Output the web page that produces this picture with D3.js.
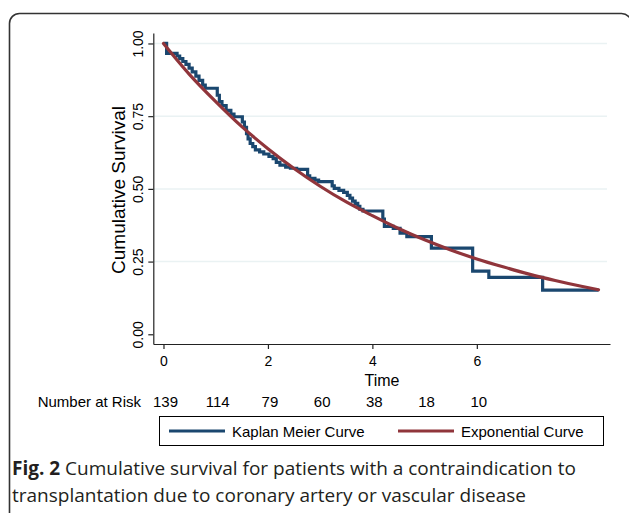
<!DOCTYPE html>
<html>
<head>
<meta charset="utf-8">
<script src="https://cdn.jsdelivr.net/npm/d3@7"></script>
<style>
  html, body { margin: 0; padding: 0; background: #fff; }
  svg { display: block; }
</style>
</head>
<body>
<div id="chart"></div>
<script>
"use strict"

// Kaplan Meier step points (time, survival after the step)
const kmTime = [0, 0.06, 0.26, 0.31, 0.37, 0.43, 0.49, 0.55, 0.62, 0.68,
  0.75, 0.80, 1.03, 1.07, 1.12, 1.20, 1.29, 1.35, 1.51, 1.55,
  1.59, 1.62, 1.66, 1.71, 1.76, 1.84, 1.92, 2.02, 2.10, 2.16,
  2.23, 2.34, 2.43, 2.55, 2.76, 2.80, 2.90, 2.97, 3.23, 3.27,
  3.36, 3.45, 3.52, 3.57, 3.62, 3.67, 3.72, 3.76, 3.82, 4.20,
  4.23, 4.40, 4.53, 4.66, 5.13, 5.92, 6.23, 7.26, 8.33];
const kmSurv = [1.00, 0.966, 0.957, 0.948, 0.938, 0.928, 0.915, 0.902, 0.888, 0.873,
  0.857, 0.846, 0.822, 0.800, 0.786, 0.770, 0.757, 0.748, 0.730, 0.712,
  0.690, 0.672, 0.656, 0.645, 0.634, 0.627, 0.620, 0.612, 0.604, 0.591,
  0.582, 0.575, 0.571, 0.567, 0.545, 0.536, 0.530, 0.525, 0.510, 0.502,
  0.495, 0.488, 0.478, 0.468, 0.458, 0.450, 0.440, 0.430, 0.424, 0.396,
  0.371, 0.364, 0.348, 0.336, 0.296, 0.217, 0.196, 0.152, 0.152];

// Exponential fit
const expTime = [0, 0.5, 1, 1.5, 2, 2.5, 3, 3.5, 4, 4.5, 5, 5.5, 6, 6.5, 7, 7.5, 8, 8.33];
const expSurv = [1.00, 0.893, 0.800, 0.714, 0.638, 0.570, 0.509, 0.455, 0.408, 0.364,
  0.325, 0.290, 0.259, 0.232, 0.207, 0.185, 0.165, 0.153];

// Number at risk
const riskTimes = [0, 1, 2, 3, 4, 5, 6];
const riskCounts = [139, 114, 79, 60, 38, 18, 10];

const xTicks = [0, 2, 4, 6];
const yTicks = [0, 0.25, 0.5, 0.75, 1];
const gridTicks = [0.25, 0.5, 0.75, 1];

const seriesNames = ["Kaplan Meier Curve", "Exponential Curve"];
const seriesColors = ["#1a476f", "#90353b"];

const W = 629, H = 513;
const chartFont = "'Liberation Sans', Arial, sans-serif";
const captionFont = "'Open Sans', 'Noto Sans', sans-serif";

const svg = d3.select("#chart").append("svg")
  .attr("width", W)
  .attr("height", H);

// Outer frame (rounded, runs off the right and bottom edges)
svg.append("rect")
  .attr("x", 9.5)
  .attr("y", 13.5)
  .attr("width", 622)
  .attr("height", 530)
  .attr("rx", 10)
  .attr("fill", "none")
  .attr("stroke", "#333")
  .attr("stroke-width", 1.6);

// Scales
const xScale = d3.scaleLinear()
  .domain([-0.195, 8.55])
  .range([153.3, 610]);

const yScale = d3.scaleLinear()
  .domain([-0.0334, 1.036])
  .range([344, 33]);

// Gridlines
svg.append("g")
  .attr("class", "grid")
  .selectAll("line")
  .data(gridTicks)
  .enter().append("line")
    .attr("x1", xScale.range()[0])
    .attr("x2", 607)
    .attr("y1", d => yScale(d))
    .attr("y2", d => yScale(d))
    .attr("stroke", "#eaf2f3")
    .attr("stroke-width", 1.5);

// Axes
const xAxis = d3.axisBottom(xScale)
  .tickValues(xTicks)
  .tickSizeInner(5)
  .tickSizeOuter(0)
  .tickPadding(7)
  .tickFormat(d3.format("d"));

const yAxis = d3.axisLeft(yScale)
  .tickValues(yTicks)
  .tickSizeInner(5)
  .tickSizeOuter(0)
  .tickFormat(d3.format(".2f"));

const gx = svg.append("g")
  .attr("transform", `translate(0, ${yScale.range()[0]})`)
  .call(xAxis);

gx.selectAll("text")
  .attr("font-family", chartFont)
  .attr("font-size", 14)
  .attr("fill", "#000");

const gy = svg.append("g")
  .attr("transform", `translate(${xScale.range()[0]}, 0)`)
  .call(yAxis);

gy.selectAll("text")
  .attr("font-family", chartFont)
  .attr("font-size", 14)
  .attr("fill", "#000")
  .attr("text-anchor", "middle")
  .attr("dy", 0)
  .attr("x", 0)
  .attr("transform", "translate(-10, 0) rotate(-90)");

svg.selectAll(".domain, .tick line")
  .attr("stroke", "#222")
  .attr("stroke-width", 1.2);

// Axis titles
svg.append("text")
  .attr("x", 382)
  .attr("y", 386)
  .attr("text-anchor", "middle")
  .attr("font-family", chartFont)
  .attr("font-size", 16)
  .text("Time");

svg.append("text")
  .attr("transform", "translate(125, 190) rotate(-90)")
  .attr("text-anchor", "middle")
  .attr("font-family", chartFont)
  .attr("font-size", 19)
  .text("Cumulative Survival");

// Curves
const kmData = kmTime.map((t, i) => ({t: t, s: kmSurv[i]}));
const expData = expTime.map((t, i) => ({t: t, s: expSurv[i]}));

const kmLine = d3.line()
  .x(d => xScale(d.t))
  .y(d => yScale(d.s))
  .curve(d3.curveStepAfter);

const expLine = d3.line()
  .x(d => xScale(d.t))
  .y(d => yScale(d.s))
  .curve(d3.curveMonotoneX);

svg.append("path")
  .datum(kmData)
  .attr("d", kmLine)
  .attr("fill", "none")
  .attr("stroke", seriesColors[0])
  .attr("stroke-width", 3.2);

svg.append("path")
  .datum(expData)
  .attr("d", expLine)
  .attr("fill", "none")
  .attr("stroke", seriesColors[1])
  .attr("stroke-width", 3.2)
  .attr("stroke-linecap", "round");

// Number at risk row
svg.append("text")
  .attr("x", 141)
  .attr("y", 407)
  .attr("text-anchor", "end")
  .attr("font-family", chartFont)
  .attr("font-size", 15)
  .text("Number at Risk");

svg.append("g")
  .selectAll("text")
  .data(riskTimes)
  .enter().append("text")
    .attr("x", d => xScale(d) + 2)
    .attr("y", 407)
    .attr("text-anchor", "middle")
    .attr("font-family", chartFont)
    .attr("font-size", 15)
    .text((d, i) => riskCounts[i]);

// Legend
const legend = svg.append("g");

legend.append("rect")
  .attr("x", 159.5)
  .attr("y", 416.5)
  .attr("width", 444)
  .attr("height", 29)
  .attr("fill", "#fff")
  .attr("stroke", "#000")
  .attr("stroke-width", 1);

const legendX = [169, 398];

seriesNames.forEach((name, i) => {
  legend.append("line")
    .attr("x1", legendX[i])
    .attr("x2", legendX[i] + 56)
    .attr("y1", 431)
    .attr("y2", 431)
    .attr("stroke", seriesColors[i])
    .attr("stroke-width", 3.2);

  legend.append("text")
    .attr("x", legendX[i] + 63)
    .attr("y", 436.5)
    .attr("font-family", chartFont)
    .attr("font-size", 15)
    .text(name);
});

// Caption
const caption = svg.append("g")
  .attr("font-family", captionFont)
  .attr("font-size", 19)
  .attr("fill", "#231f20");

const line1 = caption.append("text")
  .attr("x", 12)
  .attr("y", 475);

line1.append("tspan")
  .attr("font-weight", "bold")
  .text("Fig. 2");

line1.append("tspan")
  .text(" Cumulative survival for patients with a contraindication to");

caption.append("text")
  .attr("x", 12)
  .attr("y", 502)
  .text("transplantation due to coronary artery or vascular disease");
</script>
</body>
</html>
